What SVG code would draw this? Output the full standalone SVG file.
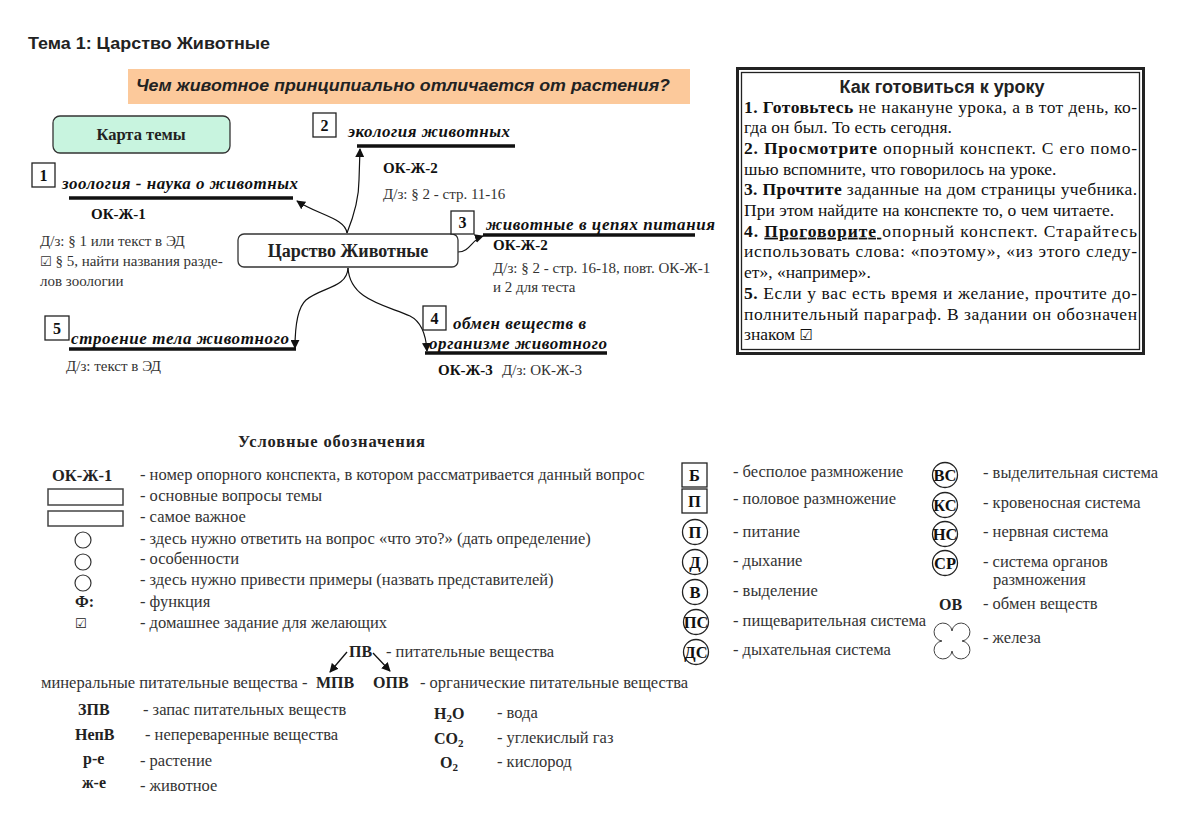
<svg xmlns="http://www.w3.org/2000/svg" width="1200" height="822" viewBox="0 0 1200 822">
<defs>
<marker id="ah" viewBox="0 0 10 10" refX="9" refY="5" markerWidth="9" markerHeight="9" markerUnits="userSpaceOnUse" orient="auto"><path d="M0,0 L10,5 L0,10 z" fill="#111"/></marker>
<style>
text{font-family:"Liberation Serif","Times New Roman",serif;fill:#222}
.sans{font-family:"Liberation Sans",Arial,sans-serif}
.b{font-weight:bold}
.ti{font-style:italic;font-weight:bold;font-size:17px;fill:#111}
.dz{font-size:15px;fill:#333}
.ok{font-size:15px;font-weight:bold;fill:#111}
.num{font-size:16px;font-weight:bold;text-anchor:middle;fill:#111}
.nbox{fill:#fff;stroke:#222;stroke-width:1.3}
.ul{stroke:#111;stroke-width:3.5}
.con{fill:none;stroke:#111;stroke-width:1.2;marker-end:url(#ah)}
.rt{font-size:17.5px;fill:#111}
.lg{font-size:16.5px;fill:#333}
.lgb{font-size:16px;font-weight:bold;fill:#222}
.cir{fill:#fff;stroke:#222;stroke-width:1.3}
.ct{font-size:16.5px;font-weight:bold;text-anchor:middle;fill:#111}
.chk{font-family:"DejaVu Sans",sans-serif}
</style>
</defs>
<rect width="1200" height="822" fill="#fff"/>

<g id="title">
<text class="sans b" x="28" y="49" font-size="17" fill="#111" textLength="242" lengthAdjust="spacingAndGlyphs">Тема 1: Царство Животные</text>
</g>

<g id="question">
<rect x="128" y="69" width="562" height="35" fill="#fcc99b"/>
<text class="sans" x="136" y="91" font-size="17" font-weight="bold" font-style="italic" fill="#222" textLength="534" lengthAdjust="spacingAndGlyphs">Чем животное принципиально отличается от растения?</text>
</g>

<g id="map-label">
<rect x="53" y="116" width="177" height="37" rx="7" fill="#c8f4df" stroke="#333" stroke-width="1.3"/>
<text x="141" y="140" font-size="16.5" font-weight="bold" text-anchor="middle" fill="#111">Карта темы</text>
</g>

<g id="connectors">
<path class="con" d="M347,233 C345,218 318,215 297,201"/>
<path class="con" d="M347,233 C353,218 359,200 359,180 L360,149"/>
<path class="con" d="M458,252 C470,252 471,240 483,236"/>
<path class="con" d="M348,268 C350,300 385,305 410,316 C422,322 426,335 427,351"/>
<path class="con" d="M348,268 C347,288 322,287 306,300 C297,308 295,330 295,348"/>
</g>

<g id="center">
<rect x="238" y="234" width="220" height="33" rx="6" fill="#fff" stroke="#333" stroke-width="1.3"/>
<text x="348" y="257" font-size="18" font-weight="bold" text-anchor="middle" fill="#111">Царство Животные</text>
</g>

<g id="branch1">
<rect class="nbox" x="32" y="163" width="23" height="24"/>
<text class="num" x="43.5" y="181">1</text>
<text class="ti" x="62" y="189" textLength="236" lengthAdjust="spacing">зоология - наука о животных</text>
<line class="ul" x1="69" y1="198" x2="293" y2="198"/>
<text class="ok" x="91" y="219">ОК-Ж-1</text>
<text class="dz" x="40" y="246">Д/з: § 1 или текст в ЭД</text>
<text class="dz" x="40" y="266"><tspan class="chk" font-size="13">☑</tspan> § 5, найти названия разде-</text>
<text class="dz" x="40" y="286">лов зоологии</text>
</g>

<g id="branch2">
<rect class="nbox" x="313" y="113" width="23" height="24"/>
<text class="num" x="324.5" y="131">2</text>
<text class="ti" x="348" y="137" textLength="162" lengthAdjust="spacing">экология животных</text>
<line class="ul" x1="357" y1="146" x2="515" y2="146"/>
<text class="ok" x="383" y="173">ОК-Ж-2</text>
<text class="dz" x="383" y="199">Д/з: § 2 - стр. 11-16</text>
</g>

<g id="branch3">
<rect class="nbox" x="451" y="211" width="23" height="23"/>
<text class="num" x="462.5" y="228">3</text>
<text class="ti" x="486" y="230" textLength="229" lengthAdjust="spacing">животные в цепях питания</text>
<line class="ul" x1="483" y1="235" x2="695" y2="235"/>
<text class="ok" x="493" y="250">ОК-Ж-2</text>
<text class="dz" x="493" y="273">Д/з: § 2 - стр. 16-18, повт. ОК-Ж-1</text>
<text class="dz" x="493" y="292">и 2 для теста</text>
</g>

<g id="branch4">
<rect class="nbox" x="423" y="306" width="23" height="24"/>
<text class="num" x="434.5" y="324">4</text>
<text class="ti" x="453" y="329" textLength="133" lengthAdjust="spacing">обмен веществ в</text>
<text class="ti" x="429" y="349" textLength="178" lengthAdjust="spacing">организме животного</text>
<line class="ul" x1="425" y1="353" x2="607" y2="353"/>
<text class="ok" x="438" y="375">ОК-Ж-3</text>
<text class="dz" x="502" y="375">Д/з: ОК-Ж-3</text>
</g>

<g id="branch5">
<rect class="nbox" x="45" y="316" width="24" height="24"/>
<text class="num" x="57" y="334">5</text>
<text class="ti" x="71" y="344" textLength="218" lengthAdjust="spacing">строение тела животного</text>
<line class="ul" x1="69" y1="349" x2="296" y2="349"/>
<text class="dz" x="66" y="371">Д/з: текст в ЭД</text>
</g>

<g id="howto">
<rect x="737.5" y="68.5" width="406" height="285" fill="#fff" stroke="#222" stroke-width="3"/>
<rect x="741.5" y="72.5" width="398" height="277" fill="none" stroke="#222" stroke-width="1.3"/>
<text class="sans b" x="942" y="93" font-size="18" text-anchor="middle" fill="#111">Как готовиться к уроку</text>
<text class="rt" x="744" y="112.5" textLength="393" lengthAdjust="spacing"><tspan class="b">1. Готовьтесь</tspan> не накануне урока, а в тот день, ко-</text>
<text class="rt" x="744" y="133.2">гда он был. То есть сегодня.</text>
<text class="rt" x="744" y="153.9" textLength="393" lengthAdjust="spacing"><tspan class="b">2. Просмотрите</tspan> опорный конспект. С его помо-</text>
<text class="rt" x="744" y="174.6">шью вспомните, что говорилось на уроке.</text>
<text class="rt" x="744" y="195.3" textLength="393" lengthAdjust="spacing"><tspan class="b">3. Прочтите</tspan> заданные на дом страницы учебника.</text>
<text class="rt" x="744" y="216">При этом найдите на конспекте то, о чем читаете.</text>
<text class="rt" x="744" y="236.7" textLength="393" lengthAdjust="spacing"><tspan class="b">4. </tspan><tspan class="b" text-decoration="underline">Проговорите&#160;</tspan>опорный конспект. Старайтесь</text>
<text class="rt" x="744" y="257.4" textLength="393" lengthAdjust="spacing">использовать слова: «поэтому», «из этого следу-</text>
<text class="rt" x="744" y="278.1">ет», «например».</text>
<text class="rt" x="744" y="298.8" textLength="393" lengthAdjust="spacing"><tspan class="b">5.</tspan> Если у вас есть время и желание, прочтите до-</text>
<text class="rt" x="744" y="319.5" textLength="393" lengthAdjust="spacing">полнительный параграф. В задании он обозначен</text>
<text class="rt" x="744" y="340.2">знаком <tspan class="chk" font-size="15">☑</tspan></text>
</g>

<g id="legend-title">
<text x="238" y="447" font-size="16.5" font-weight="bold" fill="#111" textLength="187" lengthAdjust="spacing">Условные обозначения</text>
</g>

<g id="legend-left">
<text x="52" y="481" font-size="16.5" font-weight="bold" fill="#111">ОК-Ж-1</text>
<text class="lg" x="140" y="480">- номер опорного конспекта, в котором рассматривается данный вопрос</text>
<rect x="48" y="489" width="75" height="16" fill="#fff" stroke="#444" stroke-width="1.5"/>
<text class="lg" x="140" y="501">- основные вопросы темы</text>
<rect x="48" y="511" width="75" height="15" fill="#fff" stroke="#444" stroke-width="1.5"/>
<text class="lg" x="140" y="522">- самое важное</text>
<circle cx="83" cy="540" r="8" fill="none" stroke="#333" stroke-width="1.2"/>
<text class="lg" x="140" y="544">- здесь нужно ответить на вопрос «что это?» (дать определение)</text>
<circle cx="83" cy="562" r="8" fill="none" stroke="#333" stroke-width="1.2"/>
<text class="lg" x="140" y="564">- особенности</text>
<circle cx="83" cy="583" r="8" fill="none" stroke="#333" stroke-width="1.2"/>
<text class="lg" x="140" y="585">- здесь нужно привести примеры (назвать представителей)</text>
<text class="lgb" x="75" y="607">Ф:</text>
<text class="lg" x="140" y="607">- функция</text>
<text class="chk" x="75" y="628" font-size="13" fill="#222">☑</text>
<text class="lg" x="140" y="628">- домашнее задание для желающих</text>
</g>

<g id="legend-nutrients">
<text class="lgb" x="349" y="657">ПВ</text>
<text class="lg" x="386" y="657">- питательные вещества</text>
<line x1="347" y1="652" x2="330" y2="672" stroke="#111" stroke-width="1.3" marker-end="url(#ah)"/>
<line x1="373" y1="653" x2="390" y2="671" stroke="#111" stroke-width="1.3" marker-end="url(#ah)"/>
<text class="lg" x="41" y="688">минеральные питательные вещества -</text>
<text class="lgb" x="316" y="688">МПВ</text>
<text class="lgb" x="373" y="688">ОПВ</text>
<text class="lg" x="420" y="688">- органические питательные вещества</text>
<text class="lgb" x="78" y="715">ЗПВ</text>
<text class="lg" x="143" y="715">- запас питательных веществ</text>
<text class="lgb" x="75" y="740">НепВ</text>
<text class="lg" x="145" y="740">- непереваренные вещества</text>
<text class="lgb" x="83" y="764">р-е</text>
<text class="lg" x="140" y="766">- растение</text>
<text class="lgb" x="82" y="788">ж-е</text>
<text class="lg" x="140" y="791">- животное</text>
<text class="lgb" x="434" y="719">H<tspan font-size="11" dy="3">2</tspan><tspan dy="-3">O</tspan></text>
<text class="lg" x="497" y="718">- вода</text>
<text class="lgb" x="434" y="744">CO<tspan font-size="11" dy="3">2</tspan></text>
<text class="lg" x="497" y="743">- углекислый газ</text>
<text class="lgb" x="440" y="768">O<tspan font-size="11" dy="3">2</tspan></text>
<text class="lg" x="497" y="767">- кислород</text>
</g>

<g id="legend-middle">
<rect class="nbox" x="682" y="463" width="25" height="24"/>
<text class="ct" x="694.5" y="481">Б</text>
<text class="lg" x="733" y="477">- бесполое размножение</text>
<rect class="nbox" x="682" y="489" width="25" height="24"/>
<text class="ct" x="694.5" y="507">П</text>
<text class="lg" x="733" y="504">- половое размножение</text>
<circle class="cir" cx="695" cy="532" r="12.5"/>
<text class="ct" x="695" y="538">П</text>
<text class="lg" x="733" y="537">- питание</text>
<circle class="cir" cx="695" cy="562" r="12.5"/>
<text class="ct" x="695" y="568">Д</text>
<text class="lg" x="733" y="566">- дыхание</text>
<circle class="cir" cx="695" cy="592" r="12.5"/>
<text class="ct" x="695" y="598">В</text>
<text class="lg" x="733" y="596">- выделение</text>
<circle class="cir" cx="696" cy="622" r="12.5"/>
<text class="ct" x="696" y="628">ПС</text>
<text class="lg" x="733" y="626">- пищеварительная система</text>
<circle class="cir" cx="696" cy="652" r="12.5"/>
<text class="ct" x="696" y="658">ДС</text>
<text class="lg" x="733" y="655">- дыхательная система</text>
</g>

<g id="legend-right">
<circle class="cir" cx="945" cy="475" r="12.5"/>
<text class="ct" x="945" y="481">ВС</text>
<text class="lg" x="983" y="478">- выделительная система</text>
<circle class="cir" cx="945" cy="505" r="12.5"/>
<text class="ct" x="945" y="511">КС</text>
<text class="lg" x="983" y="508">- кровеносная система</text>
<circle class="cir" cx="945" cy="534" r="12.5"/>
<text class="ct" x="945" y="540">НС</text>
<text class="lg" x="983" y="537">- нервная система</text>
<circle class="cir" cx="945" cy="563" r="12.5"/>
<text class="ct" x="945" y="569">СР</text>
<text class="lg" x="983" y="567">- система органов</text>
<text class="lg" x="993" y="585">размножения</text>
<text class="lgb" x="939" y="610">ОВ</text>
<text class="lg" x="983" y="609">- обмен веществ</text>
<path d="M952,631 A9 9 0 1 1 962,641 A9 9 0 1 1 952,651 A9 9 0 1 1 942,641 A9 9 0 1 1 952,631 Z" fill="#fff" stroke="#444" stroke-width="1"/>
<text class="lg" x="983" y="643">- железа</text>
</g>
</svg>
